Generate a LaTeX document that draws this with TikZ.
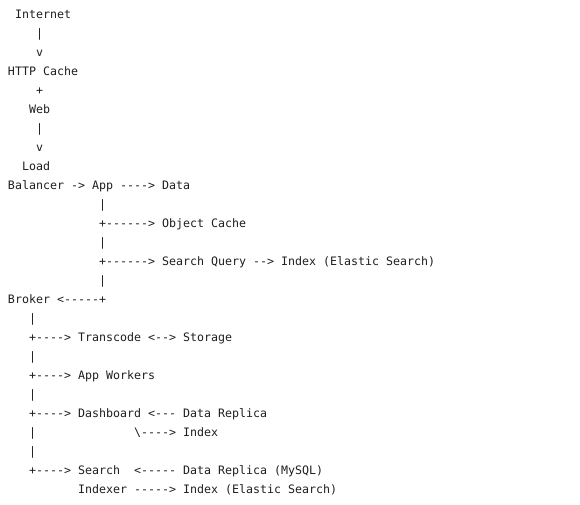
\documentclass[tikz,border=0pt]{standalone}
\usepackage{fontspec}
\setmonofont{DejaVu Sans Mono}
\tikzset{
  txt/.style={anchor=base west, inner sep=0pt, outer sep=0pt, font=\ttfamily\fontsize{11.63pt}{13pt}\selectfont, text=black!88}
}
\newcommand{\cellat}[4]{\node[txt] (#1) at ({(8+#2*7)*1pt},{(486-#3*19)*1pt}) {#4};}
\begin{document}
\begin{tikzpicture}
\useasboundingbox[fill=white] (0,0) rectangle (580pt,505pt);
\cellat{internet}{1}{0}{Internet}
\cellat{c1}{4}{1}{|}
\cellat{c2}{4}{2}{v}
\cellat{httpcache}{0}{3}{HTTP Cache}
\cellat{c3}{4}{4}{+}
\cellat{web}{3}{5}{Web}
\cellat{c4}{4}{6}{|}
\cellat{c5}{4}{7}{v}
\cellat{load}{2}{8}{Load}
\cellat{balancer}{0}{9}{Balancer}
\cellat{c6}{9}{9}{->}
\cellat{app}{12}{9}{App}
\cellat{c7}{16}{9}{---->}
\cellat{data}{22}{9}{Data}
\cellat{c8}{13}{10}{|}
\cellat{c9}{13}{11}{+------>}
\cellat{objcache}{22}{11}{Object Cache}
\cellat{c10}{13}{12}{|}
\cellat{c11}{13}{13}{+------>}
\cellat{squery}{22}{13}{Search Query}
\cellat{c12}{35}{13}{-->}
\cellat{index1}{39}{13}{Index (Elastic Search)}
\cellat{c13}{13}{14}{|}
\cellat{broker}{0}{15}{Broker}
\cellat{c14}{7}{15}{<-----+}
\cellat{c15}{3}{16}{|}
\cellat{c16}{3}{17}{+---->}
\cellat{transcode}{10}{17}{Transcode}
\cellat{c17}{20}{17}{<-->}
\cellat{storage}{25}{17}{Storage}
\cellat{c18}{3}{18}{|}
\cellat{c19}{3}{19}{+---->}
\cellat{appworkers}{10}{19}{App Workers}
\cellat{c20}{3}{20}{|}
\cellat{c21}{3}{21}{+---->}
\cellat{dashboard}{10}{21}{Dashboard}
\cellat{c22}{20}{21}{<---}
\cellat{datareplica}{25}{21}{Data Replica}
\cellat{c23}{3}{22}{|}
\cellat{c24}{18}{22}{\textbackslash---->}
\cellat{index2}{25}{22}{Index}
\cellat{c25}{3}{23}{|}
\cellat{c26}{3}{24}{+---->}
\cellat{search}{10}{24}{Search}
\cellat{c27}{18}{24}{<-----}
\cellat{mysql}{25}{24}{Data Replica (MySQL)}
\cellat{indexer}{10}{25}{Indexer}
\cellat{c28}{18}{25}{----->}
\cellat{index3}{25}{25}{Index (Elastic Search)}
\end{tikzpicture}
\end{document}
